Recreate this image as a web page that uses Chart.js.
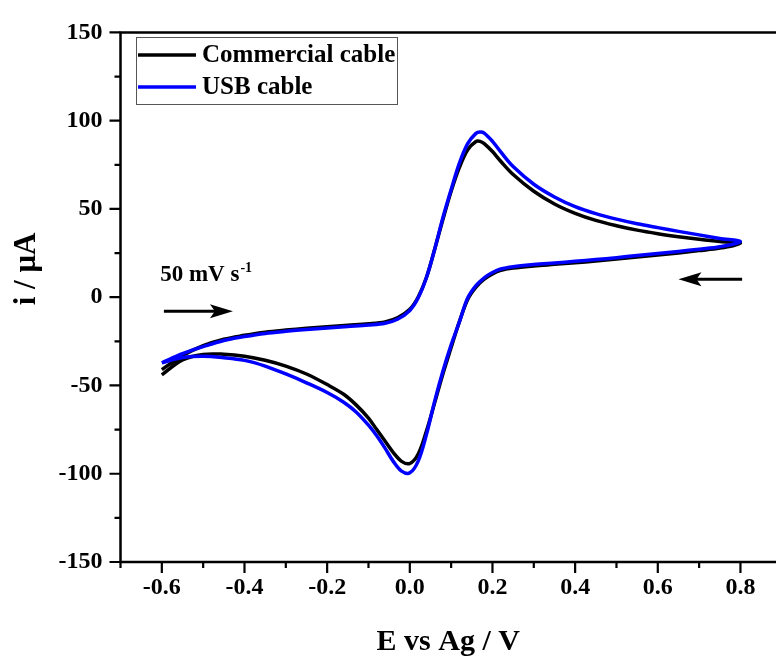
<!DOCTYPE html>
<html>
<head>
<meta charset="utf-8">
<script src="https://cdn.jsdelivr.net/npm/chart.js@4.4.0/dist/chart.umd.min.js"></script>
<style>
  html, body { margin: 0; padding: 0; background: #fff; }
  #wrap { width: 776px; height: 657px; }
</style>
</head>
<body>
<div id="wrap"><canvas id="cv"></canvas></div>
<script>
// forward scan, -0.6 -> 0.8 V
const eForward = [-0.6, -0.55, -0.5, -0.45, -0.4, -0.35, -0.3, -0.25, -0.2, -0.15, -0.1, -0.06, -0.03, 0,
  0.02, 0.04, 0.06, 0.08, 0.1, 0.12, 0.14, 0.16, 0.17, 0.18, 0.2, 0.22, 0.25, 0.3, 0.35, 0.4, 0.45, 0.5,
  0.55, 0.6, 0.65, 0.7, 0.75, 0.8];
const commercialForward = [-41, -33, -27.5, -23.8, -21.6, -19.8, -18.6, -17.6, -16.7, -15.9, -15.1, -14, -11.7, -6.8,
  0, 11, 27, 44, 60, 73.5, 83.5, 88.2, 88.3, 87, 82.5, 77, 69.5, 60, 52.8, 47.5, 43.5, 40.5,
  38, 36, 34.3, 32.8, 31.5, 30.5];
const usbForward = [-37.2, -32, -28, -24.5, -22.3, -20.5, -19.3, -18.3, -17.4, -16.6, -15.8, -14.8, -12.5, -7.5,
  -0.5, 11, 27, 45, 61, 76, 87, 92.8, 93.6, 93, 88.3, 82.3, 74, 64, 56.8, 51.3, 47.3, 44.2,
  41.6, 39.4, 37.3, 35.3, 33.3, 31.5];

// reverse scan, 0.8 -> -0.6 V
const eReverse = [0.75, 0.7, 0.65, 0.6, 0.55, 0.5, 0.45, 0.4, 0.35, 0.3, 0.25, 0.22, 0.2, 0.18, 0.16, 0.14,
  0.12, 0.1, 0.08, 0.06, 0.04, 0.02, 0, -0.02, -0.04, -0.06, -0.08, -0.1, -0.13, -0.16, -0.2, -0.25,
  -0.3, -0.35, -0.4, -0.45, -0.5, -0.55, -0.6];
const commercialReverse = [27.8, 26.4, 25.1, 23.9, 22.8, 21.6, 20.5, 19.5, 18.6, 17.7, 16.5, 15.2, 13.2, 10.2, 5.7, -1.3,
  -13.8, -28.5, -43.5, -60, -76, -89, -94.2, -93, -88, -81.5, -75, -68.5, -61, -55, -49.5, -43.5,
  -39, -35.7, -33.4, -32.3, -32.4, -35.5, -44];
const usbReverse = [28.6, 27.2, 25.9, 24.7, 23.6, 22.4, 21.3, 20.3, 19.4, 18.5, 17.3, 16, 14, 11, 6.5, -0.5,
  -14, -27, -42, -59, -78, -93, -99.5, -98.5, -93, -85.5, -78.5, -72.5, -65, -59.5, -54, -48.5,
  -43.5, -39, -35.8, -34.3, -33.5, -34.2, -37.2];

const seriesNames = ['Commercial cable', 'USB cable'];
const seriesColors = ['#000000', '#0000ff'];

const xTicksMajor = [-0.6, -0.4, -0.2, 0, 0.2, 0.4, 0.6, 0.8];
const xTicksMinor = [-0.7, -0.5, -0.3, -0.1, 0.1, 0.3, 0.5, 0.7];
const yTicksMajor = [-150, -100, -50, 0, 50, 100, 150];
const yTicksMinor = [-125, -75, -25, 25, 75, 125];

const serif = "'Liberation Serif', 'Times New Roman', serif";

function loop(ef, f, er, r) {
  return ef.map((e, i) => ({x: e, y: f[i]})).concat(er.map((e, i) => ({x: e, y: r[i]})));
}

function isMajor(list, v) {
  return list.some(m => Math.abs(m - v) < 1e-6);
}

// axes box, ticks, y title, legend, scan arrows
const decorations = {
  id: 'decorations',
  afterDraw(chart) {
    const ctx = chart.ctx;
    const a = chart.chartArea;
    const xs = chart.scales.x, ys = chart.scales.y;
    ctx.save();
    ctx.strokeStyle = '#000';
    ctx.lineWidth = 2.5;
    ctx.beginPath();
    ctx.moveTo(chart.width, a.top);
    ctx.lineTo(a.left, a.top);
    ctx.lineTo(a.left, a.bottom);
    ctx.lineTo(chart.width, a.bottom);
    ctx.stroke();

    ctx.lineWidth = 2.2;
    ctx.beginPath();
    yTicksMajor.forEach(v => { const p = ys.getPixelForValue(v); ctx.moveTo(a.left - 11, p); ctx.lineTo(a.left, p); });
    yTicksMinor.forEach(v => { const p = ys.getPixelForValue(v); ctx.moveTo(a.left - 6, p); ctx.lineTo(a.left, p); });
    xTicksMajor.forEach(v => { const p = xs.getPixelForValue(v); ctx.moveTo(p, a.bottom); ctx.lineTo(p, a.bottom + 11); });
    xTicksMinor.forEach(v => { const p = xs.getPixelForValue(v); ctx.moveTo(p, a.bottom); ctx.lineTo(p, a.bottom + 6); });
    ctx.stroke();

    // y axis title
    ctx.save();
    ctx.translate(27, 269);
    ctx.rotate(-Math.PI / 2);
    ctx.fillStyle = '#000';
    ctx.font = 'bold 31px ' + serif;
    ctx.textAlign = 'center';
    ctx.textBaseline = 'middle';
    ctx.fillText('i / \u03bcA', 0, 0);
    ctx.restore();

    // legend
    ctx.lineWidth = 1;
    ctx.strokeStyle = '#555';
    ctx.strokeRect(136.5, 37.5, 261, 67);
    seriesNames.forEach((name, i) => {
      const ly = 55 + i * 32;
      ctx.strokeStyle = seriesColors[i];
      ctx.lineWidth = 3.5;
      ctx.beginPath();
      ctx.moveTo(138, ly);
      ctx.lineTo(196, ly);
      ctx.stroke();
      ctx.fillStyle = '#000';
      ctx.font = 'bold 25px ' + serif;
      ctx.textAlign = 'left';
      ctx.textBaseline = 'middle';
      ctx.fillText(name, 202, ly + 1);
    });

    // scan rate note and arrows, placed in data units
    ctx.fillStyle = '#000';
    ctx.textBaseline = 'alphabetic';
    ctx.font = 'bold 23px ' + serif;
    const tx = xs.getPixelForValue(-0.604), ty = ys.getPixelForValue(9.3);
    ctx.fillText('50 mV s', tx, ty);
    const w = ctx.measureText('50 mV s').width;
    ctx.font = 'bold 14px ' + serif;
    ctx.fillText('-1', tx + w + 1, ty - 9);

    drawArrow(ctx, xs.getPixelForValue(-0.595), xs.getPixelForValue(-0.428), ys.getPixelForValue(-7.9));
    drawArrow(ctx, xs.getPixelForValue(0.804), xs.getPixelForValue(0.65), ys.getPixelForValue(10.2));
    ctx.restore();
  }
};

function drawArrow(ctx, x0, x1, y) {
  const dir = x1 > x0 ? 1 : -1;
  ctx.strokeStyle = '#000';
  ctx.lineWidth = 3;
  ctx.beginPath();
  ctx.moveTo(x0, y);
  ctx.lineTo(x1 - dir * 12, y);
  ctx.stroke();
  ctx.fillStyle = '#000';
  ctx.beginPath();
  ctx.moveTo(x1, y);
  ctx.lineTo(x1 - dir * 23, y - 7);
  ctx.lineTo(x1 - dir * 18, y);
  ctx.lineTo(x1 - dir * 23, y + 7);
  ctx.closePath();
  ctx.fill();
}

new Chart(document.getElementById('cv'), {
  type: 'scatter',
  data: {
    datasets: [{
      label: seriesNames[0],
      data: loop(eForward, commercialForward, eReverse, commercialReverse),
      showLine: true,
      borderColor: seriesColors[0],
      borderWidth: 3.5,
      pointRadius: 0,
      tension: 0.35,
      order: 1
    }, {
      label: seriesNames[1],
      data: loop(eForward, usbForward, eReverse, usbReverse),
      showLine: true,
      borderColor: seriesColors[1],
      borderWidth: 3.5,
      pointRadius: 0,
      tension: 0.35,
      order: 0
    }]
  },
  options: {
    responsive: true,
    maintainAspectRatio: false,
    animation: false,
    layout: { padding: { top: 24, left: 0, right: 0, bottom: 0 } },
    plugins: {
      legend: { display: false },
      tooltip: { enabled: false }
    },
    scales: {
      x: {
        type: 'linear',
        min: -0.7,
        max: 0.886,
        border: { display: false },
        grid: { display: false, drawTicks: false },
        afterBuildTicks: s => { s.ticks = xTicksMinor.concat(xTicksMajor).sort((p, q) => p - q).map(v => ({value: v})); },
        afterFit: s => { s.height = 95; },
        ticks: {
          autoSkip: false,
          maxRotation: 0,
          padding: 11,
          color: '#000',
          font: { family: serif, weight: 'bold', size: 24 },
          callback: v => isMajor(xTicksMajor, v) ? v.toFixed(1) : ''
        },
        title: {
          display: true,
          text: 'E vs Ag / V',
          color: '#000',
          padding: 0,
          font: { family: serif, weight: 'bold', size: 30, lineHeight: 1 }
        }
      },
      y: {
        type: 'linear',
        min: -150,
        max: 150,
        border: { display: false },
        grid: { display: false, drawTicks: false },
        afterBuildTicks: s => { s.ticks = yTicksMinor.concat(yTicksMajor).sort((p, q) => p - q).map(v => ({value: v})); },
        afterFit: s => { s.width = 120.5; },
        ticks: {
          autoSkip: false,
          padding: 18,
          color: '#000',
          font: { family: serif, weight: 'bold', size: 24 },
          callback: v => isMajor(yTicksMajor, v) ? String(v) : ''
        }
      }
    }
  },
  plugins: [decorations]
});
</script>
</body>
</html>
